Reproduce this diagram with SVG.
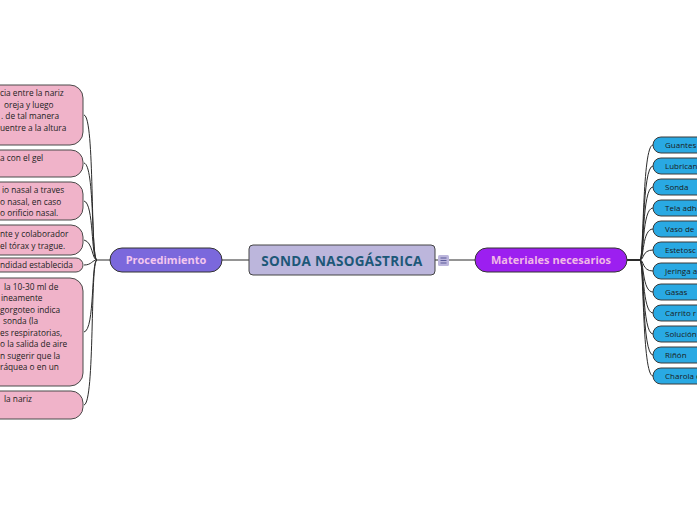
<svg xmlns="http://www.w3.org/2000/svg" width="697" height="520" viewBox="0 0 697 520">
<style>
text{font-family:"Open Sans","Noto Sans","Liberation Sans",sans-serif}
.lp{fill:#f0b3c9;stroke:#4a4a4a;stroke-width:1}
.lt{font-size:8.3px;fill:#222}
.rb{fill:#29a9e3;stroke:#3a3a3a;stroke-width:1}
.rt{font-size:8px;fill:#1a1a1a}
.c{fill:none;stroke:#2b2b2b;stroke-width:1}
</style>
<rect width="697" height="520" fill="#ffffff"/>
<g id="connectors">
<path class="c" d="M222 260H249"/>
<path class="c" d="M435 260H475"/>
<path class="c" d="M110 260H97"/>
<path class="c" d="M97 260C90 260 95 117 84 115"/>
<path class="c" d="M97 260C91 260 95 165 84 163"/>
<path class="c" d="M97 260C91 260 94 203 84 201"/>
<path class="c" d="M97 260C92 260 93 242 84 240"/>
<path class="c" d="M97 260C92 260 92 265 84 265"/>
<path class="c" d="M97 260C91 260 95 330 84 332"/>
<path class="c" d="M97 260C90 260 95 403 84 405"/>
<path class="c" style="stroke-width:2" d="M627 260H640"/>
<path class="c" d="M640 260C644 260 642 145 653 145"/>
<path class="c" d="M640 260C644 260 642 166 653 166"/>
<path class="c" d="M640 260C644 260 642 187 653 187"/>
<path class="c" d="M640 260C644 260 642 208 653 208"/>
<path class="c" d="M640 260C644 260 642 229 653 229"/>
<path class="c" d="M640 260C644 260 642 250 653 250"/>
<path class="c" d="M640 260C644 260 642 271 653 271"/>
<path class="c" d="M640 260C644 260 642 292 653 292"/>
<path class="c" d="M640 260C644 260 642 313 653 313"/>
<path class="c" d="M640 260C644 260 642 334 653 334"/>
<path class="c" d="M640 260C644 260 642 355 653 355"/>
<path class="c" d="M640 260C644 260 642 376 653 376"/>
</g>
<g id="central">
<rect x="249" y="245" width="186" height="30" rx="4" fill="#bcb6dc" stroke="#444" stroke-width="1"/>
<text x="342" y="265.5" text-anchor="middle" font-size="13.5" letter-spacing="0.3" font-weight="bold" fill="#1d5878">SONDA NASOGÁSTRICA</text>
</g>
<g id="note-icon">
<rect x="438" y="255" width="11" height="11" rx="1.5" fill="#bcb6dc"/>
<path d="M440.5 258h6M440.5 260.5h6M440.5 263h6" stroke="#5a5a9a" stroke-width="1"/>
</g>
<g id="procedimiento">
<rect x="110" y="248" width="112" height="24" rx="12" fill="#7b68dc" stroke="#333" stroke-width="1"/>
<text x="166" y="264" text-anchor="middle" font-size="11" font-weight="bold" fill="#f3c6ee">Procedimiento</text>
</g>
<g id="materiales">
<rect x="475" y="248" width="152" height="24" rx="12" fill="#9c1ff0" stroke="#333" stroke-width="1"/>
<text x="551" y="264" text-anchor="middle" font-size="11" font-weight="bold" fill="#f0b8e6">Materiales necesarios</text>
</g>
<g id="p1">
<rect class="lp" x="-60" y="85" width="143" height="60" rx="13"/>
<text class="lt" x="0" y="96">cia entre la nariz</text>
<text class="lt" x="4" y="107.5">oreja y luego</text>
<text class="lt" x="1" y="119">. de tal manera</text>
<text class="lt" x="0" y="130.5">uentre a la altura</text>
</g>
<g id="p2">
<rect class="lp" x="-60" y="150" width="143" height="27" rx="12"/>
<text class="lt" x="0" y="161">a con el gel</text>
</g>
<g id="p3">
<rect class="lp" x="-60" y="182" width="143" height="38" rx="12"/>
<text class="lt" x="2" y="193">io nasal a traves</text>
<text class="lt" x="0" y="204.5">o nasal, en caso</text>
<text class="lt" x="0" y="216">o orificio nasal.</text>
</g>
<g id="p4">
<rect class="lp" x="-60" y="225" width="143" height="30" rx="12"/>
<text class="lt" x="0" y="237">nte y colaborador</text>
<text class="lt" x="0" y="248.5">el tórax y trague.</text>
</g>
<g id="p5">
<rect class="lp" x="-60" y="258" width="143" height="14" rx="7"/>
<text class="lt" x="0" y="268">ndidad establecida</text>
</g>
<g id="p6">
<rect class="lp" x="-60" y="278" width="143" height="108" rx="13"/>
<text class="lt" x="4" y="289.5">la 10-30 ml de</text>
<text class="lt" x="1" y="301">ineamente</text>
<text class="lt" x="0" y="312.5">gorgoteo indica</text>
<text class="lt" x="3" y="324">sonda (la</text>
<text class="lt" x="0" y="335.5">es respiratorias,</text>
<text class="lt" x="0" y="347">o la salida de aire</text>
<text class="lt" x="0" y="358.5">n sugerir que la</text>
<text class="lt" x="0" y="370">ráquea o en un</text>
</g>
<g id="p7">
<rect class="lp" x="-60" y="391" width="143" height="28" rx="12"/>
<text class="lt" x="4" y="402">la nariz</text>
</g>
<g id="m1"><rect class="rb" x="653" y="137" width="70" height="16" rx="8"/><text class="rt" x="665" y="148">Guantes</text></g>
<g id="m2"><rect class="rb" x="653" y="158" width="70" height="16" rx="8"/><text class="rt" x="665" y="169">Lubrican</text></g>
<g id="m3"><rect class="rb" x="653" y="179" width="70" height="16" rx="8"/><text class="rt" x="665" y="190">Sonda</text></g>
<g id="m4"><rect class="rb" x="653" y="200" width="70" height="16" rx="8"/><text class="rt" x="665" y="211">Tela adhe</text></g>
<g id="m5"><rect class="rb" x="653" y="221" width="70" height="16" rx="8"/><text class="rt" x="665" y="232">Vaso de</text></g>
<g id="m6"><rect class="rb" x="653" y="242" width="70" height="16" rx="8"/><text class="rt" x="665" y="253">Estetosc</text></g>
<g id="m7"><rect class="rb" x="653" y="263" width="70" height="16" rx="8"/><text class="rt" x="665" y="274">Jeringa a</text></g>
<g id="m8"><rect class="rb" x="653" y="284" width="70" height="16" rx="8"/><text class="rt" x="665" y="295">Gasas</text></g>
<g id="m9"><rect class="rb" x="653" y="305" width="70" height="16" rx="8"/><text class="rt" x="665" y="316">Carrito r</text></g>
<g id="m10"><rect class="rb" x="653" y="326" width="70" height="16" rx="8"/><text class="rt" x="665" y="337">Solución</text></g>
<g id="m11"><rect class="rb" x="653" y="347" width="70" height="16" rx="8"/><text class="rt" x="665" y="358">Riñón</text></g>
<g id="m12"><rect class="rb" x="653" y="368" width="70" height="16" rx="8"/><text class="rt" x="665" y="379">Charola d</text></g>
</svg>
